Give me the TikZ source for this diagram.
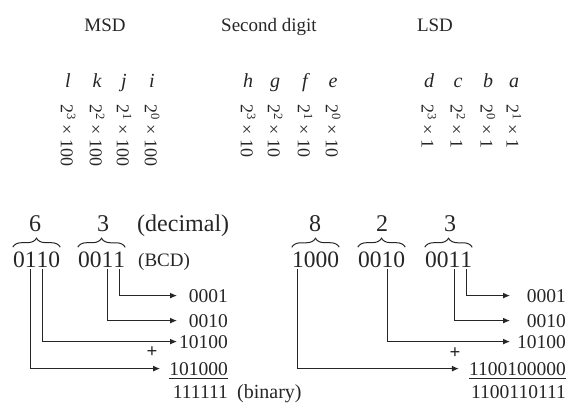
\documentclass[tikz,border=0pt]{standalone}
\usepackage{fontspec}
\setmainfont{Liberation Serif}
\usepackage{tikz}
\usetikzlibrary{
  arrows.meta,
  decorations.pathreplacing,
  calc
}
\definecolor{InkGray}{HTML}{262626}
\tikzset{
  % Column header
  hdr/.style={anchor=base, inner sep=0pt, text=InkGray,
    font=\fontsize{19}{19}\selectfont},
  % Bit name (italic letter)
  bitname/.style={anchor=base, inner sep=0pt, text=InkGray,
    font=\fontsize{20}{20}\selectfont\itshape},
  % Weight of a bit, written downwards
  wgt/.style={anchor=west, rotate=-90, inner sep=0pt, text=InkGray,
    font=\fontsize{18}{18}\selectfont},
  % One BCD digit
  bcd/.style={anchor=base, inner sep=0pt, text=InkGray,
    font=\fontsize{23.5}{23.5}\selectfont},
  % Decimal digit over a brace
  decdig/.style={anchor=base, inner sep=0pt, text=InkGray,
    font=\fontsize{24}{24}\selectfont},
  % Binary value, right aligned
  bin/.style={anchor=base east, inner sep=0pt, text=InkGray,
    font=\fontsize{19.5}{19.5}\selectfont},
  % Side note
  note/.style={anchor=base west, inner sep=0pt, text=InkGray,
    font=\fontsize{#1}{#1}\selectfont},
  % Plus sign of a sum
  plus/.style={inner sep=0pt, text=InkGray,
    font=\fontsize{19}{19}\selectfont\bfseries},
  % Brace over a digit group
  grpbrace/.style={decorate, decoration={brace, amplitude=9pt},
    line width=1pt, draw=InkGray},
  % Arrow
  arr/.style={-{Latex[length=7pt,width=6pt]}, line width=1.1pt, draw=InkGray}
}

\begin{document}
\begin{tikzpicture}[x=1pt, y=-1pt]

  \useasboundingbox (0,0) rectangle (568,402);

  % Headers
  \node[hdr] (msd) at (105,31) {MSD};
  \node[hdr] (sec) at (269,31) {Second digit};
  \node[hdr] (lsd) at (435,31) {LSD};

  % Bit names and weights
  \foreach \x/\nm/\e in {68/l/3, 97/k/2, 124/j/1, 152/i/0} {
    \node[bitname] (n\nm) at (\x,87) {\nm};
    \node[wgt] (w\nm) at (\x,104) {2\textsuperscript{\e} × 100};
  }
  \foreach \x/\nm/\e in {248/h/3, 275/g/2, 305/f/1, 333/e/0} {
    \node[bitname] (n\nm) at (\x,87) {\nm};
    \node[wgt] (w\nm) at (\x,104) {2\textsuperscript{\e} × 10};
  }
  \foreach \x/\nm/\e in {429/d/3, 458/c/2, 488/b/0, 514/a/1} {
    \node[bitname] (n\nm) at (\x,87) {\nm};
    \node[wgt] (w\nm) at (\x,104) {2\textsuperscript{\e} × 1};
  }

  % BCD digits, one node each
  \foreach \d [count=\i] in {0,1,1,0}
    \node[bcd] (lt\i) at (13+11.75*\i-5.875,267) {\d};
  \foreach \d [count=\i] in {0,0,1,1}
    \node[bcd] (lu\i) at (78+11.75*\i-5.875,267) {\d};
  \foreach \d [count=\i] in {1,0,0,0}
    \node[bcd] (rh\i) at (292+11.75*\i-5.875,267) {\d};
  \foreach \d [count=\i] in {0,0,1,0}
    \node[bcd] (rt\i) at (358+11.75*\i-5.875,267) {\d};
  \foreach \d [count=\i] in {0,0,1,1}
    \node[bcd] (ru\i) at (425+11.75*\i-5.875,267) {\d};
  \node[note=19] (bcdnote) at (138,266) {(BCD)};

  % Braces and decimal digits
  \draw[grpbrace] ([yshift=4pt]lt1.north west) -- ([yshift=4pt]lt4.north east);
  \draw[grpbrace] ([yshift=4pt]lu1.north west) -- ([yshift=4pt]lu4.north east);
  \draw[grpbrace] ([yshift=4pt]rh1.north west) -- ([yshift=4pt]rh4.north east);
  \draw[grpbrace] ([yshift=4pt]rt1.north west) -- ([yshift=4pt]rt4.north east);
  \draw[grpbrace] ([yshift=4pt]ru1.north west) -- ([yshift=4pt]ru4.north east);
  \node[decdig] (dsix) at (35,231) {6};
  \node[decdig] (dthree) at (103,231) {3};
  \node[note=24] (decnote) at (137,231) {(decimal)};
  \node[decdig] (deight) at (315,231) {8};
  \node[decdig] (dtwo) at (382,231) {2};
  \node[decdig] (dthreeb) at (450,231) {3};

  % Partial sums, 63
  \node[bin] (lr1) at (228,302) {0001};
  \node[bin] (lr2) at (228,327) {0010};
  \node[bin] (lr3) at (228,348) {10100};
  \node[bin] (lr4) at (228,375) {101000};
  \node[bin] (lsum) at (228,398) {111111};
  \node[note=20] (binnote) at (237,398) {(binary)};
  \node[plus] (lplus) at (152,352) {+};
  \draw[line width=1pt, draw=InkGray] ([yshift=-3pt]lr4.south west) -- ([yshift=-3pt]lr4.south east);

  % Partial sums, 823
  \node[bin] (rr1) at (566,302) {0001};
  \node[bin] (rr2) at (566,327) {0010};
  \node[bin] (rr3) at (566,348) {10100};
  \node[bin] (rr4) at (566,375) {1100100000};
  \node[bin] (rsum) at (566,398) {1100110111};
  \node[plus] (rplus) at (455,353) {+};
  \draw[line width=1pt, draw=InkGray] ([yshift=-3pt]rr4.south west) -- ([yshift=-3pt]rr4.south east);

  % Arrows
  \coordinate (ltip) at (177,0);
  \coordinate (rtip) at (510,0);
  \draw[arr] ([yshift=-2pt]lu4.south) |- (lr1.west -| ltip);
  \draw[arr] ([yshift=-2pt]lu3.south) |- (lr2.west -| ltip);
  \draw[arr] ([yshift=-2pt]lt3.south) |- (lr3.west -| ltip);
  \draw[arr] ([yshift=-2pt]lt2.south) |- ([xshift=-9pt]lr4.west);
  \draw[arr] ([yshift=-2pt]ru4.south) |- (rr1.west -| rtip);
  \draw[arr] ([yshift=-2pt]ru3.south) |- (rr2.west -| rtip);
  \draw[arr] ([yshift=-2pt]rt3.south) |- (rr3.west -| rtip);
  \draw[arr] ([yshift=-2pt]rh1.south) |- ([xshift=-10pt]rr4.west);

\end{tikzpicture}
\end{document}
